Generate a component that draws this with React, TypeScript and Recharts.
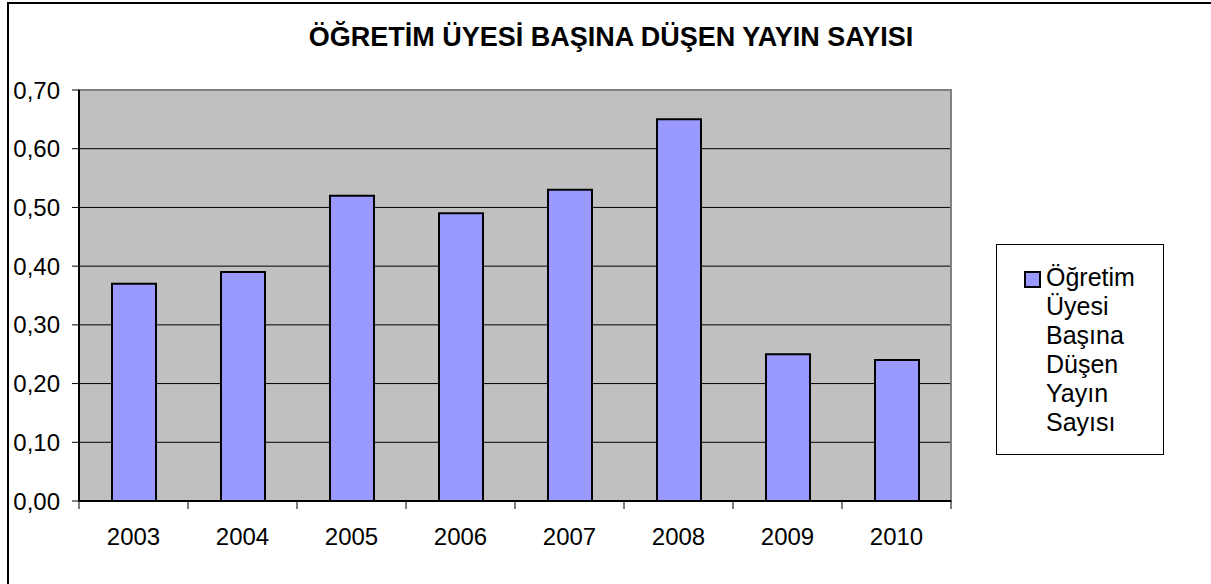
import React from 'react';
import { BarChart, Bar, XAxis, YAxis, CartesianGrid, ReferenceArea } from 'recharts';

const years = ['2003', '2004', '2005', '2006', '2007', '2008', '2009', '2010'];
const yayinSayisi = [0.37, 0.39, 0.52, 0.49, 0.53, 0.65, 0.25, 0.24];
const yTicks = [0, 0.1, 0.2, 0.3, 0.4, 0.5, 0.6, 0.7];

const seriesName = 'Öğretim Üyesi Başına Düşen Yayın Sayısı';
const title = 'ÖĞRETİM ÜYESİ BAŞINA DÜŞEN YAYIN SAYISI';

const data = years.map((year, i) => ({ year, value: yayinSayisi[i] }));

const FONT = '"Liberation Sans", Arial, sans-serif';
const BAR_COLOR = '#9999FF';

// etiket ortada, çentik kategori sınırında
const XTick = (props: any) => {
  const { x, y, payload, index } = props;
  const half = payload?.offset ?? 0;
  return (
    <g>
      <line x1={x - half} y1={y - 8} x2={x - half} y2={y} stroke="#000" />
      {index === years.length - 1 && <line x1={x + half} y1={y - 8} x2={x + half} y2={y} stroke="#000" />}
      <text x={x} y={y + 36} textAnchor="middle" fontSize={24} fontFamily={FONT} fill="#000">
        {payload.value}
      </text>
    </g>
  );
};

const LegendBox = () => (
  <div
    style={{
      position: 'absolute',
      left: 996,
      top: 244,
      width: 168,
      height: 211,
      border: '1px solid #000',
      boxSizing: 'border-box',
      background: '#fff',
      fontFamily: FONT,
      fontSize: 25,
      lineHeight: '29px',
      color: '#000',
      paddingTop: 18,
    }}
  >
    <div
      style={{
        position: 'absolute',
        left: 27,
        top: 26,
        width: 13,
        height: 13,
        background: BAR_COLOR,
        border: '2px solid #000',
      }}
    />
    {seriesName.split(' ').map((w) => (
      <div key={w} style={{ paddingLeft: 49 }}>
        {w}
      </div>
    ))}
  </div>
);

export default function App() {
  return (
    <div style={{ position: 'absolute', left: 0, top: 0, width: 1211, height: 584, overflow: 'hidden', background: '#fff' }}>
      <div
        style={{
          position: 'absolute',
          left: 7,
          top: 2,
          width: 1240,
          height: 620,
          border: '2px solid #000',
        }}
      />
      <div
        style={{
          position: 'absolute',
          left: 0,
          width: 1222,
          top: 22,
          textAlign: 'center',
          fontFamily: FONT,
          fontWeight: 'bold',
          fontSize: 27,
        }}
      >
        {title}
      </div>
      <div style={{ position: 'absolute', left: 0, top: 0 }}>
        <BarChart width={1211} height={584} data={data} margin={{ top: 90, right: 260, bottom: 23, left: 0 }} barSize={44}>
          <CartesianGrid vertical={false} stroke="#000" fill="#C0C0C0" fillOpacity={1} />
          <ReferenceArea x1="2003" x2="2010" y1={0} y2={0.7} fill="none" stroke="#808080" strokeWidth={2} />
          <XAxis
            dataKey="year"
            height={60}
            tickSize={8}
            tickMargin={0}
            tickLine={false}
            axisLine={{ stroke: '#000', strokeWidth: 2 }}
            tick={<XTick />}
            interval={0}
          />
          <YAxis
            width={79}
            domain={[0, 0.7]}
            ticks={yTicks}
            interval={0}
            tickSize={7}
            tickMargin={12}
            tickLine={{ stroke: '#000' }}
            axisLine={{ stroke: '#000', strokeWidth: 2 }}
            tickFormatter={(v: number) => v.toFixed(2).replace('.', ',')}
            tick={{ fontSize: 24, fontFamily: FONT, fill: '#000' }}
          />
          <Bar dataKey="value" name={seriesName} fill={BAR_COLOR} stroke="#000" strokeWidth={2} isAnimationActive={false} />
        </BarChart>
      </div>
      <LegendBox />
    </div>
  );
}
